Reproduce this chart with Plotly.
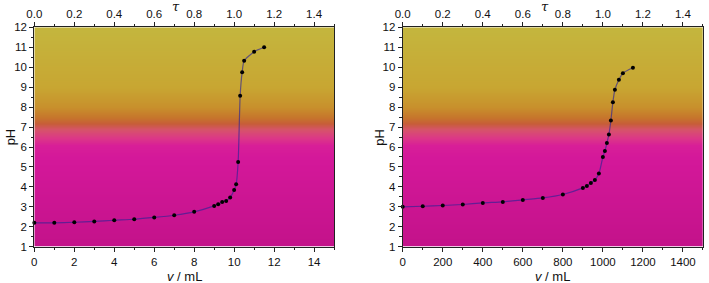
import plotly.graph_objects as go

# ---- data ----
v_left = [0, 1, 2, 3, 4, 5, 6, 7, 8, 9, 9.2, 9.4, 9.6, 9.8, 10.0, 10.1, 10.2, 10.3, 10.4, 10.5, 11.0, 11.5]
ph_left = [2.2, 2.2, 2.23, 2.27, 2.33, 2.38, 2.47, 2.58, 2.75, 3.05, 3.13, 3.25, 3.3, 3.47, 3.85, 4.13, 5.25, 8.57, 9.75, 10.32, 10.78, 11.0]

v_right = [0, 100, 200, 300, 400, 500, 600, 700, 800, 900, 920, 940, 960, 980, 1000, 1010, 1020, 1030, 1040, 1050, 1060, 1080, 1100, 1150]
ph_right = [3.0, 3.03, 3.07, 3.12, 3.2, 3.25, 3.35, 3.45, 3.62, 3.95, 4.05, 4.2, 4.35, 4.67, 5.5, 5.8, 6.2, 6.63, 7.33, 8.25, 8.87, 9.37, 9.7, 9.97]

x_left_range = [0, 15]
x_right_range = [0, 1500]
tau_range = [0, 1.5]
ph_range = [1, 12]

# background gradient (pH -> colour)
bg_ph = [1, 5.5, 6.1, 6.5, 6.9, 7.2, 7.5, 8.0, 9.0, 12]
bg_col = ["#c3128a", "#d4189a", "#d81f98", "#dc3a86", "#d6546a", "#c75e38",
          "#c6762c", "#c8902c", "#c8a632", "#c4b63e"]

FONT = "Liberation Sans, Arial, sans-serif"
LINE_COL = "rgba(45,35,150,0.65)"

fig = go.Figure()

colorscale = [[(p - bg_ph[0]) / (bg_ph[-1] - bg_ph[0]), c] for p, c in zip(bg_ph, bg_col)]
grid_y = [1 + i * 0.05 for i in range(221)]


def add_panel(xs, ys, xrange, xa, ya):
    fig.add_trace(go.Heatmap(
        x=[xrange[0] - 1, xrange[1] + 1], y=grid_y,
        z=[[yy, yy] for yy in grid_y],
        colorscale=colorscale, zmin=bg_ph[0], zmax=bg_ph[-1],
        zsmooth="best", showscale=False, hoverinfo="skip",
        xaxis=xa, yaxis=ya))
    fig.add_trace(go.Scatter(
        x=xs, y=ys, mode="lines+markers",
        line=dict(color=LINE_COL, width=1.2, shape="spline", smoothing=0.6),
        marker=dict(color="black", size=4),
        cliponaxis=False, showlegend=False,
        xaxis=xa, yaxis=ya))


add_panel(v_left, ph_left, x_left_range, "x", "y")
add_panel(v_right, ph_right, x_right_range, "x2", "y2")

# invisible traces for top axes
fig.add_trace(go.Scatter(x=tau_range, y=[None, None], xaxis="x3", yaxis="y", showlegend=False, hoverinfo="skip"))
fig.add_trace(go.Scatter(x=tau_range, y=[None, None], xaxis="x4", yaxis="y2", showlegend=False, hoverinfo="skip"))

axcommon = dict(showgrid=False, zeroline=False, showline=True, linecolor="#222",
                linewidth=1, ticks="outside", ticklen=4, tickwidth=1, tickcolor="#222",
                automargin=False,
                tickfont=dict(family=FONT, size=11.5, color="#111"))

dom_l = [0.0484, 0.4712]
dom_r = [0.568, 0.9915]
dom_y = [0.128, 0.9035]

minor_x = dict(ticks="outside", ticklen=2.5, tickcolor="#222", dtick=1)
minor_xr = dict(ticks="outside", ticklen=2.5, tickcolor="#222", dtick=100)
minor_t = dict(ticks="outside", ticklen=2.5, tickcolor="#222", dtick=0.1)
minor_y = dict(ticks="outside", ticklen=2.5, tickcolor="#222", dtick=0.5)

fig.update_layout(
    width=709, height=283,
    margin=dict(l=0, r=0, t=0, b=0, autoexpand=False),
    paper_bgcolor="white", plot_bgcolor="white",
    showlegend=False,
    xaxis=dict(axcommon, domain=dom_l, range=x_left_range, dtick=2, anchor="y",
               minor=minor_x),
    xaxis2=dict(axcommon, domain=dom_r, range=x_right_range, dtick=200, anchor="y2",
                minor=minor_xr),
    xaxis3=dict(axcommon, overlaying="x", side="top", anchor="y", range=tau_range,
                dtick=0.2, tickformat=".1f", minor=minor_t),
    xaxis4=dict(axcommon, overlaying="x2", side="top", anchor="y2", range=tau_range,
                dtick=0.2, tickformat=".1f", minor=minor_t),
    yaxis=dict(axcommon, domain=dom_y, range=ph_range, dtick=1, anchor="x",
               mirror=True, minor=minor_y),
    yaxis2=dict(axcommon, domain=dom_y, range=ph_range, dtick=1, anchor="x2",
                mirror=True, minor=minor_y),
)

tfont = dict(family=FONT, size=13, color="#111")
ann = []
for dom in (dom_l, dom_r):
    cx = (dom[0] + dom[1]) / 2
    ann.append(dict(text="<i>v</i> / mL", x=cx, y=1 - 276 / 283, xref="paper", yref="paper",
                    xanchor="center", yanchor="middle", showarrow=False, font=tfont))
    ann.append(dict(text="pH", x=dom[0] - 24 / 709, y=(dom_y[0] + dom_y[1]) / 2,
                    xref="paper", yref="paper", xanchor="center", yanchor="middle",
                    textangle=-90, showarrow=False, font=tfont))
    ann.append(dict(text="<i>τ</i>", x=dom[0] + (dom[1] - dom[0]) * 0.71 / 1.5,
                    y=1 - 7 / 283, xref="paper", yref="paper",
                    xanchor="center", yanchor="middle", showarrow=False,
                    font=dict(family="DejaVu Serif, serif", size=13, color="#111")))
fig.update_layout(annotations=ann)

fig.write_html("out.html", config={"displayModeBar": False},
               post_script="document.body.style.margin='0';")
